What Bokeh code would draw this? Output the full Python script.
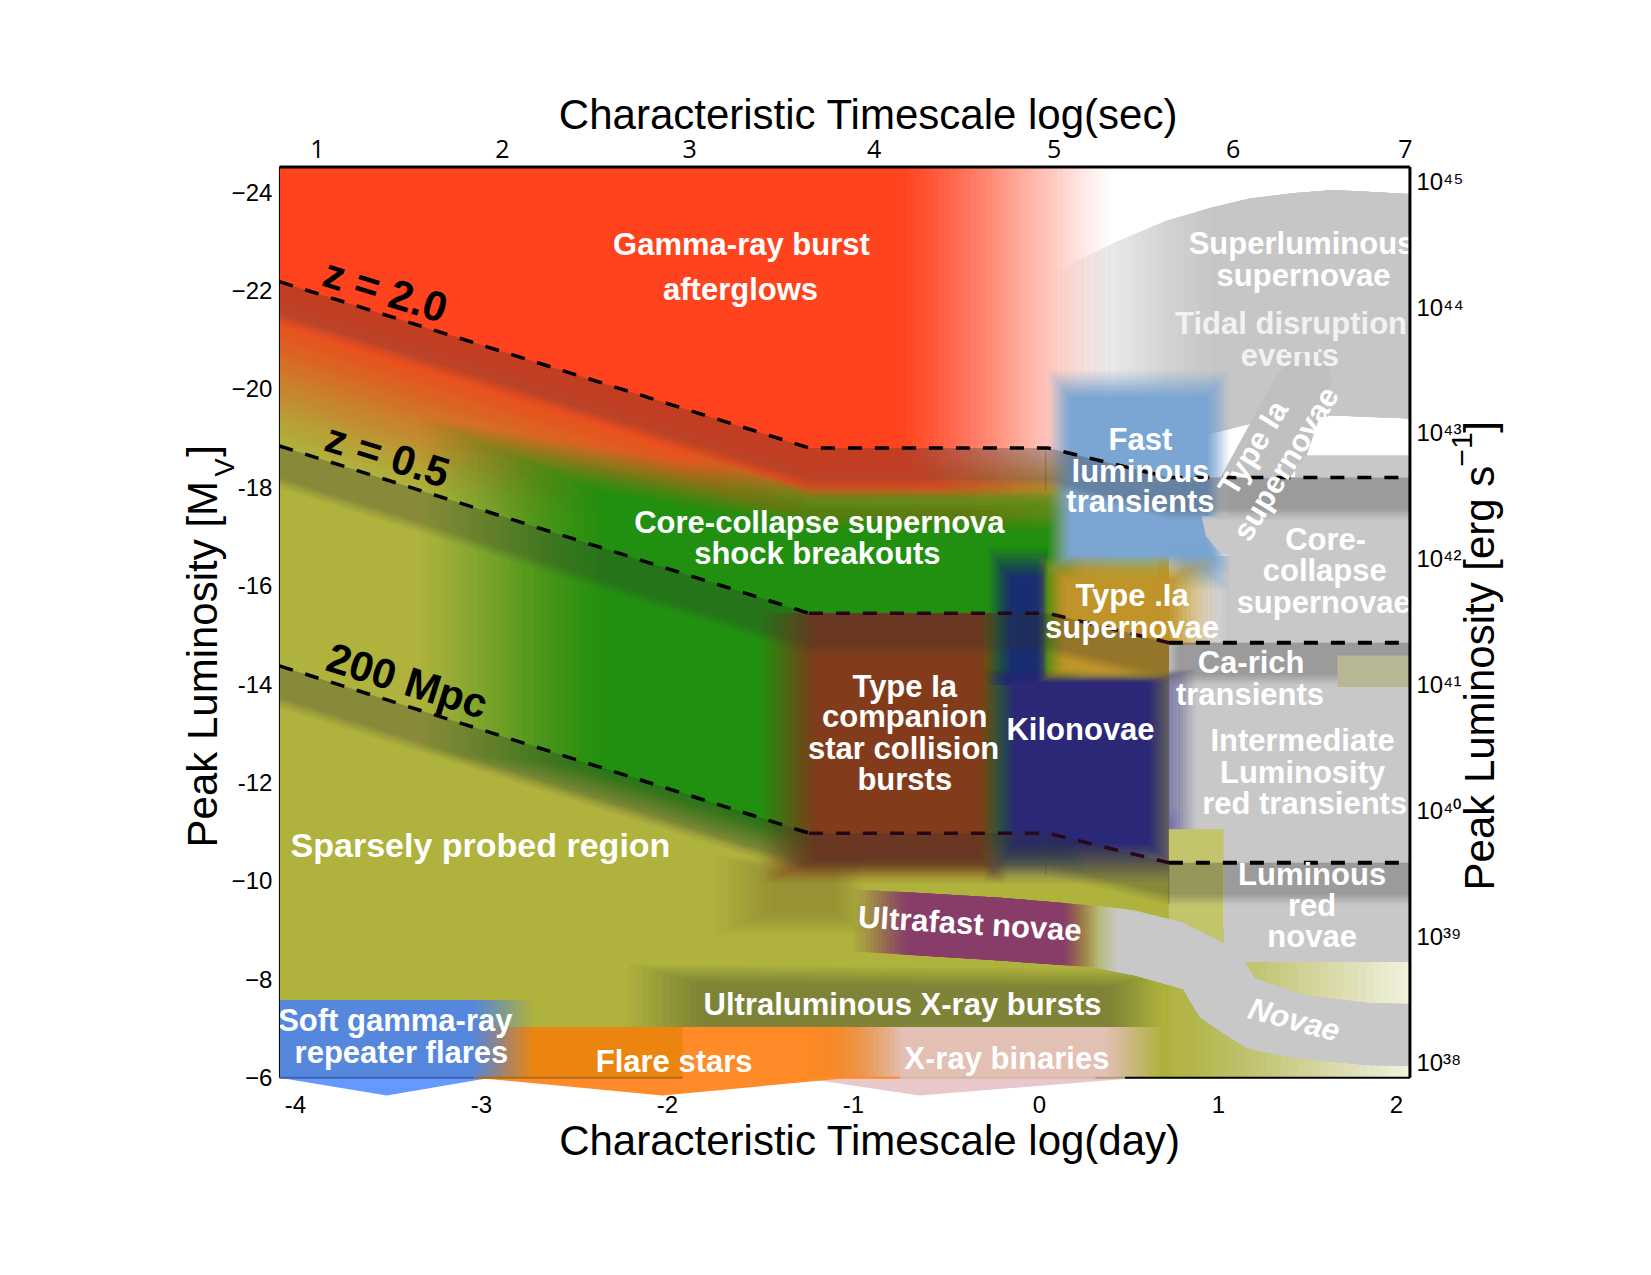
import math
import numpy as np
from bokeh.plotting import figure
from bokeh.models import Range1d, LinearAxis, FixedTicker
from bokeh.core.properties import value
from bokeh.embed import file_html
from bokeh.resources import INLINE

# ---- frame limits (log day, peak magnitude) ----
XMIN, XMAX = -4.086, 1.992
YTOP, YBOT = -24.51, -6.0

# ---- horizon lines ----
line_x = [-4.086, -1.239, 0.045, 0.696, 1.992]
z20_m = [-22.18, -18.80, -18.80, -18.20, -18.20]
z05_m = [-18.84, -15.44, -15.44, -14.84, -14.84]
mpc_m = [-14.37, -10.97, -10.97, -10.37, -10.37]

# ---- axes ----
left_ticks = [-24, -22, -20, -18, -16, -14, -12, -10, -8, -6]
left_labels = ["\u221224", "\u221222", "\u221220", "-18", "-16", "-14", "-12", "\u221210", "\u22128", "\u22126"]
day_ticks = [-4, -3, -2, -1, 0, 0.962, 1.919]
day_labels = ["-4", "-3", "-2", "-1", "0", "1", "2"]
sec_ticks = [-3.882, -2.887, -1.880, -0.889, 0.079, 1.041, 1.968]
sec_labels = ["1", "2", "3", "4", "5", "6", "7"]
lum_ticks = [38, 39, 40, 41, 42, 43, 44, 45]
lum_labels = ["10\u00b3\u2078", "10\u00b3\u2079", "10\u2074\u2070", "10\u2074\u00b9", "10\u2074\u00b2", "10\u2074\u00b3", "10\u2074\u2074", "10\u2074\u2075"]

# ---- phase-space regions: x, upper edge, lower edge ----
slsn_x = [0.074, 0.238, 0.413, 0.685, 0.922, 1.132, 1.375, 1.585, 1.992]
slsn_top = [-22.37, -22.67, -22.99, -23.42, -23.68, -23.87, -23.98, -24.04, -23.96]
slsn_bot = [-18.69, -18.74, -18.78, -18.95, -19.09, -19.29, -19.38, -19.46, -19.40]

olive_x = [-4.086, -1.239, 0.696]
olive_top = [-22.12, -18.80, -18.80]
olive_bot = [-6.0, -6.0, -6.0]
olive2_x = [0.60, 2.25]
olive2_top = [-9.06, -9.06]
olive2_bot = [-6.0, -6.0]
stripe_x = [-1.90, -1.239, 0.20]
stripe_top = [-18.80, -18.00, -18.00]
stripe_bot = [-18.20, -17.40, -17.40]

red_x = [-4.086, -1.239, 0.385]
red_top = [-24.51, -24.51, -24.51]
red_bot = [-18.91, -15.50, -15.50]

green_x = [-3.322, -2.145, -1.239, 0.243]
green_top = [-19.42, -18.69, -18.09, -18.01]
green_bot = [-12.68, -11.31, -10.22, -10.22]

brown_x = [-1.50, -0.175]
brown_top = [-15.44, -15.44]
brown_bot = [-9.95, -9.95]

navy1_x = [-0.277, 0.045]
navy1_top = [-16.77, -16.77]
navy1_bot = [-13.98, -13.98]
navy2_x = [-0.294, 0.838]
navy2_top = [-14.30, -14.30]
navy2_bot = [-9.95, -9.95]

fast_x = [0.045, 1.024]
fast_top = [-20.38, -20.38]
fast_bot = [-16.23, -16.23]
fast2_x = [0.668, 1.024]
fast2_top = [-17.0, -17.0]
fast2_bot = [-15.91, -15.91]

gold1_x = [-0.011, 0.696]
gold1_top = [-16.60, -16.60]
gold1_bot = [-14.03, -14.03]
gold2_x = [0.64, 0.951]
gold2_top = [-16.60, -16.60]
gold2_bot = [-14.80, -14.80]

core_x = [0.872, 1.992, 1.992, 1.007, 1.047, 0.956, 0.894]
core_m = [-17.41, -17.41, -14.80, -14.80, -16.55, -16.72, -17.02]
gap_x = [0.75, 1.10]
gap_top = [-16.60, -16.60]
gap_bot = [-14.80, -14.80]
darkgray_x = [0.922, 1.375, 1.992]
darkgray_top = [-18.20, -18.20, -18.20]
darkgray_bot = [-17.37, -17.37, -17.37]
cap_x = [1.375, 1.992]
cap_top = [-18.65, -18.65]
cap_bot = [-18.20, -18.20]
ilrt_x = [0.696, 1.992]
ilrt_top = [-14.84, -14.84]
ilrt_bot = [-10.37, -10.37]
lav_x = [0.696, 0.80]
lav_top = [-11.50, -11.50]
lav_bot = [-11.05, -11.05]
lrn_x = [0.990, 1.992]
lrn_top = [-11.05, -11.05]
lrn_bot = [-8.35, -8.35]
obox_x = [0.696, 0.990]
obox_top = [-11.05, -11.05]
obox_bot = [-8.60, -8.60]
carich_x = [1.602, 1.992]
carich_top = [-14.58, -14.58]
carich_bot = [-13.94, -13.94]

ulx_x = [-2.207, 0.651]
ulx_top = [-8.31, -8.20]
ulx_bot = [-7.03, -7.03]
wedge_x = [-1.737, -0.95]
wedge_top = [-10.5, -10.5]
wedge_bot = [-8.9, -8.9]

novae_x = [0.243, 0.509, 0.775, 0.809, 0.866, 0.990, 1.109, 1.155, 1.404, 1.760, 1.992]
novae_top = [-9.53, -9.40, -9.15, -9.08, -8.97, -8.74, -8.33, -8.03, -7.69, -7.52, -7.50]
novae_bot = [-8.27, -8.08, -7.80, -7.56, -7.22, -6.90, -6.62, -6.56, -6.39, -6.26, -6.24]
ufn_x = [-1.002, -0.21, 0.311]
ufn_top = [-9.83, -9.66, -9.49]
ufn_bot = [-8.57, -8.38, -8.24]

xrb_x = [-1.313, 0.651]
flare_x = [-3.039, -0.747]
flare2_x = [-1.918, -0.747]
low_top = [-7.03, -7.03]
low_bot = [-6.0, -6.0]
sgr_x = [-4.086, -2.728]
sgr_top = [-7.58, -7.58]

pent_sgr_x = [-4.086, -3.509, -2.95]
pent_flare_x = [-3.033, -2.026, -1.013]
pent_xrb_x = [-1.285, -0.645, 0.543]
pent_m = [-6.0, -5.64, -6.0]

sn1a_x = [1.279, 1.347, 1.488, 1.556, 1.573, 1.437, 1.347, 0.973]
sn1a_m = [-20.30, -20.55, -20.62, -20.47, -20.17, -18.65, -18.20, -18.20]
cut_x = [1.33, 1.50]
cut_top = [-21.05, -21.05]
cut_bot = [-20.75, -20.75]

band_depth = 0.85

# ---- region names ----
tde_text = ["Tidal disruption", "events"]
tde_tx = [1.353, 1.347]
tde_tm = [-21.33, -20.68]

region_text = ["Gamma-ray burst", "afterglows", "Superluminous", "supernovae", "Fast", "luminous", "transients",
               "Core-", "collapse", "supernovae", "Type .Ia", "supernovae", "Ca-rich", "transients",
               "Intermediate", "Luminosity", "red transients", "Luminous", "red", "novae", "Kilonovae",
               "Type Ia", "companion", "star collision", "bursts", "Core-collapse supernova", "shock breakouts",
               "Ultraluminous X-ray bursts", "Soft gamma-ray", "repeater flares",
               "Flare stars", "X-ray binaries"]
region_tx = [-1.602, -1.607, 1.409, 1.420, 0.543, 0.543, 0.543,
             1.539, 1.534, 1.528, 0.498, 0.498, 1.138, 1.132,
             1.415, 1.415, 1.426, 1.466, 1.466, 1.466, 0.221,
             -0.724, -0.724, -0.730, -0.724, -1.183, -1.194,
             -0.736, -3.463, -3.430, -1.964, -0.175]
region_tm = [-22.93, -22.01, -22.95, -22.31, -18.97, -18.33, -17.71,
             -16.94, -16.30, -15.65, -15.80, -15.16, -14.43, -13.79,
             -12.85, -12.21, -11.57, -10.13, -9.49, -8.87, -13.08,
             -13.96, -13.34, -12.70, -12.06, -17.28, -16.66,
             -7.48, -7.16, -6.51, -6.32, -6.39]

SANS = "Liberation Sans"

# the plotting frame covers nearly the whole canvas, so titles can sit in data coordinates;
# the four axes are pinned to the edges of the diagram with fixed_location.
p = figure(width=1640, height=1262, output_backend="svg", toolbar_location=None,
           x_range=Range1d(-5.263, 2.909), y_range=Range1d(-3.057, -27.081),
           min_border_left=60, min_border_top=40, min_border_right=60, min_border_bottom=40,
           background_fill_color="white", border_fill_color="white")
p.outline_line_color = None
p.grid.visible = False


def soft(xs, top, bot, color, alpha=1.0, fl=0.0, fr=0.0, ft=0.0, fb=0.0, n=12):
    """Draw a region as a stack of nested translucent patches so that its edges fade."""
    xs, top, bot = np.asarray(xs, float), np.asarray(top, float), np.asarray(bot, float)
    px, py, al = [], [], []
    prev = 0.0
    for k in range(1, n + 1):
        t = (k - 1) / max(n - 1, 1)
        s = k / n
        cum = alpha * (0.8 * s + 0.2 * s * s * (3 - 2 * s))
        a = 1 - (1 - cum) / (1 - prev) if prev < 1 else 0.0
        prev = cum
        x0, x1 = xs[0] + fl * t, xs[-1] - fr * t
        inner = xs[(xs > x0) & (xs < x1)]
        xx = np.concatenate([[x0], inner, [x1]])
        tt = np.interp(xx, xs, top) + ft * t
        bb = np.interp(xx, xs, bot) - fb * t
        bb = np.maximum(bb, tt)
        xx = np.minimum(xx, XMAX)
        px.append(list(xx) + list(xx[::-1]))
        py.append(list(tt) + list(bb[::-1]))
        al.append(float(a))
    p.patches(px, py, fill_color=color, fill_alpha=al, line_color=None)


# base layers
soft(slsn_x, slsn_top, slsn_bot, "#C6C6C6", fl=0.85, n=24)
soft(olive_x, olive_top, olive_bot, "#AFB23D", ft=0.8, n=14)
soft(olive2_x, olive2_top, olive2_bot, "#AFB23D", fr=1.61, n=40)
soft(red_x, red_top, red_bot, "#FF431E", fr=1.13, fb=3.0, n=40)
soft(stripe_x, stripe_top, stripe_bot, "#8A9025", alpha=0.9, fl=0.7, fr=0.15, ft=0.25, fb=0.25, n=12)
soft(green_x, green_top, green_bot, "#219010", fl=0.98, fr=0.2, ft=0.96, fb=0.75, n=30)
soft(wedge_x, wedge_top, wedge_bot, "#8F8432", alpha=0.6, fl=0.3, fr=0.15, ft=0.3, fb=0.5, n=10)
soft(brown_x, brown_top, brown_bot, "#823C1C", fl=0.30, fr=0.143, fb=0.5, n=16)

# grey families that the darker colours fade into
soft(ilrt_x, ilrt_top, ilrt_bot, "#C8C8C8", fl=0.05, n=4)
soft(gap_x, gap_top, gap_bot, "#C8C8C8", fl=0.25, n=10)
soft(lav_x, lav_top, lav_bot, "#C8B8E0", alpha=0.7, ft=0.3, fr=0.08, n=8)

soft(navy1_x, navy1_top, navy1_bot, "#182E70", fl=0.12, fr=0.03, ft=0.6, n=12)
soft(navy2_x, navy2_top, navy2_bot, "#2B2878", fl=0.16, fr=0.25, ft=0.25, fb=0.8, n=16)
soft(fast_x, fast_top, fast_bot, "#7BA6D3", fl=0.12, fr=0.12, ft=0.55, fb=0.4, n=14)
soft(fast2_x, fast2_top, fast2_bot, "#7BA6D3", alpha=0.85, fl=0.12, fr=0.12, ft=0.3, fb=0.4, n=12)
p.patch(core_x, core_m, fill_color="#C8C8C8", line_color=None)
soft(gold1_x, gold1_top, gold1_bot, "#C09428", fl=0.15, ft=0.5, fb=0.3, n=14)
soft(gold2_x, gold2_top, gold2_bot, "#C09428", fr=0.25, ft=0.5, n=12)

soft(lrn_x, lrn_top, lrn_bot, "#C8C8C8", n=1)
soft(darkgray_x, darkgray_top, darkgray_bot, "#C8C8C8", fl=0.1, n=8)
soft(cap_x, cap_top, cap_bot, "#C8C8C8", n=1)
soft(obox_x, obox_top, obox_bot, "#C3C46C", n=1)

# low-luminosity families
p.patch(pent_xrb_x, pent_m, fill_color="#E8C8CB", line_color=None)
p.patch(pent_flare_x, pent_m, fill_color="#FF8A2A", line_color=None)
p.patch(pent_sgr_x, pent_m, fill_color="#6699FF", line_color=None)
soft(ulx_x, ulx_top, ulx_bot, "#7E8338", fl=0.4, fr=0.28, ft=0.4, n=12)
soft(xrb_x, low_top, low_bot, "#E2C0B4", fr=0.283, n=12)
soft(flare_x, low_top, low_bot, "#EC8510", fr=0.504, n=18)
soft(flare2_x, low_top, low_bot, "#FF8A28", fr=0.504, n=18)
soft(sgr_x, sgr_top, low_bot, "#5588DD", fr=0.311, n=12)
soft(novae_x, novae_top, novae_bot, "#C8C8C8", fl=0.17, n=10)
soft(ufn_x, ufn_top, ufn_bot, "#873D68", fl=0.29, fr=0.18, n=14)

# dark bands below each horizon
for lm in (z20_m, z05_m, mpc_m):
    soft(line_x, lm, np.array(lm) + band_depth, "#383838", alpha=0.30, fb=0.2, n=5)
soft(carich_x, carich_top, carich_bot, "#B7B794", n=1)

# thin seams in the bands
p.segment([0.034, 0.034, 0.696], [-18.80, -10.97, -10.37], [0.034, 0.034, 0.696], [-17.94, -10.13, -9.53],
          line_color="#444444", line_alpha=0.4, line_width=1)


def names(tx, tm, txt, size="31px", angle=0.0, color="white", style="bold", align="center"):
    p.text(tx, tm, text=txt, text_font=value(SANS), text_font_size=size, text_font_style=style,
           text_color=color, text_align=align, text_baseline="middle", angle=angle)


# the type Ia strip, with a grey cut across the tops of the letters of "events"
p.patch(sn1a_x, sn1a_m, fill_color="#C0C0C0", line_color=None)
names(tde_tx, tde_tm, tde_text, color="#F2F2F2")
soft(cut_x, cut_top, cut_bot, "#C6C6C6", n=1)

# dashed horizons
p.line(line_x, z20_m, line_color="black", line_width=3.5, line_dash="14 13")
for lm in (z05_m, mpc_m):
    p.line(line_x[:2], lm[:2], line_color="black", line_width=3.5, line_dash="14 13")
    p.line(line_x[1:4], lm[1:4], line_color="#26081A", line_width=3.5, line_dash="14 13")
    p.line(line_x[3:], lm[3:], line_color="black", line_width=4, line_dash="14 13")

names(region_tx, region_tm, region_text)
names([-3.005], [-10.73], ["Sparsely probed region"], size="34px")
names([1.149], [-18.80], ["Type Ia"], angle=math.radians(58.5))
names([1.324], [-18.48], ["supernovae"], angle=math.radians(58.5))
names([-0.374], [-9.13], ["Ultrafast novae"], angle=math.radians(-3.5))
names([1.370], [-7.18], ["Novae"], angle=math.radians(-15), style="bold italic")
names([-3.516], [-22.0], ["z = 2.0"], size="42px", angle=math.radians(-17.4), color="black")
names([-3.505], [-18.65], ["z = 0.5"], size="42px", angle=math.radians(-17.4), color="black")
names([-3.398], [-14.07], ["200 Mpc"], size="42px", angle=math.radians(-17.4), color="black")

# mask right of the diagram, then its border
p.quad(left=[XMAX], right=[2.03], bottom=[YBOT], top=[YTOP], fill_color="white", line_color=None)
p.line([XMIN, XMAX], [YTOP, YTOP], line_color="black", line_width=3)
p.line([XMAX, XMAX], [YTOP, YBOT], line_color="black", line_width=3)
p.line([XMIN, XMIN], [YTOP, YBOT], line_color="black", line_width=1)
bottom_x0 = [-4.086, -3.039, -1.918, -0.75, 0.3, 0.46]
bottom_x1 = [-3.039, -1.918, -0.75, 0.3, 0.46, 1.992]
bottom_col = ["#3F5FB0", "#B06A10", "#FF8A28", "#D8B8A8", "#B0A080", "#000000"]
p.segment(bottom_x0, [YBOT] * 6, bottom_x1, [YBOT] * 6, line_color=bottom_col, line_width=2)

# axis titles
names([-0.919], [-25.577], ["Characteristic Timescale log(sec)"], size="42px", color="black", style="normal")
names([-0.911], [-4.72], ["Characteristic Timescale log(day)"], size="42px", color="black", style="normal")
up = math.pi / 2
names([-4.50], [-10.68], ["Peak Luminosity [M"], size="42px", angle=up, color="black", style="normal", align="left")
names([-4.376], [-18.22], ["V"], size="27px", angle=up, color="black", style="normal", align="left")
names([-4.50], [-18.62], ["]"], size="42px", angle=up, color="black", style="normal", align="left")
names([2.366], [-9.805], ["Peak Luminosity [erg s"], size="42px", angle=up, color="black", style="normal", align="left")
names([2.274], [-18.42], ["\u22121"], size="30px", angle=up, color="black", style="normal", align="left")
names([2.366], [-19.11], ["]"], size="42px", angle=up, color="black", style="normal", align="left")


def style_axis(a, ticks, labels, standoff, font=SANS, size="24px"):
    a.ticker = FixedTicker(ticks=ticks)
    a.major_label_overrides = dict(zip(ticks, labels))
    a.axis_line_color = None
    a.major_tick_line_color = None
    a.minor_tick_line_color = None
    a.major_label_standoff = standoff
    a.major_label_text_font = font
    a.major_label_text_font_size = size
    a.major_label_text_color = "black"


ax = p.yaxis[0]
ax.fixed_location = -4.108
style_axis(ax, left_ticks, left_labels, -3)

bx = p.xaxis[0]
bx.fixed_location = -5.614
style_axis(bx, day_ticks, day_labels, -7)

tx = LinearAxis(fixed_location=-24.581)
style_axis(tx, sec_ticks, sec_labels, 0, font="Open Sans", size="25px")
p.add_layout(tx, "above")

p.extra_y_ranges = {"lum": Range1d(36.729, 46.117)}
ry = LinearAxis(y_range_name="lum", fixed_location=2.016)
style_axis(ry, lum_ticks, lum_labels, -4)
p.add_layout(ry, "right")

open("out.html", "w").write(file_html(p, INLINE))
